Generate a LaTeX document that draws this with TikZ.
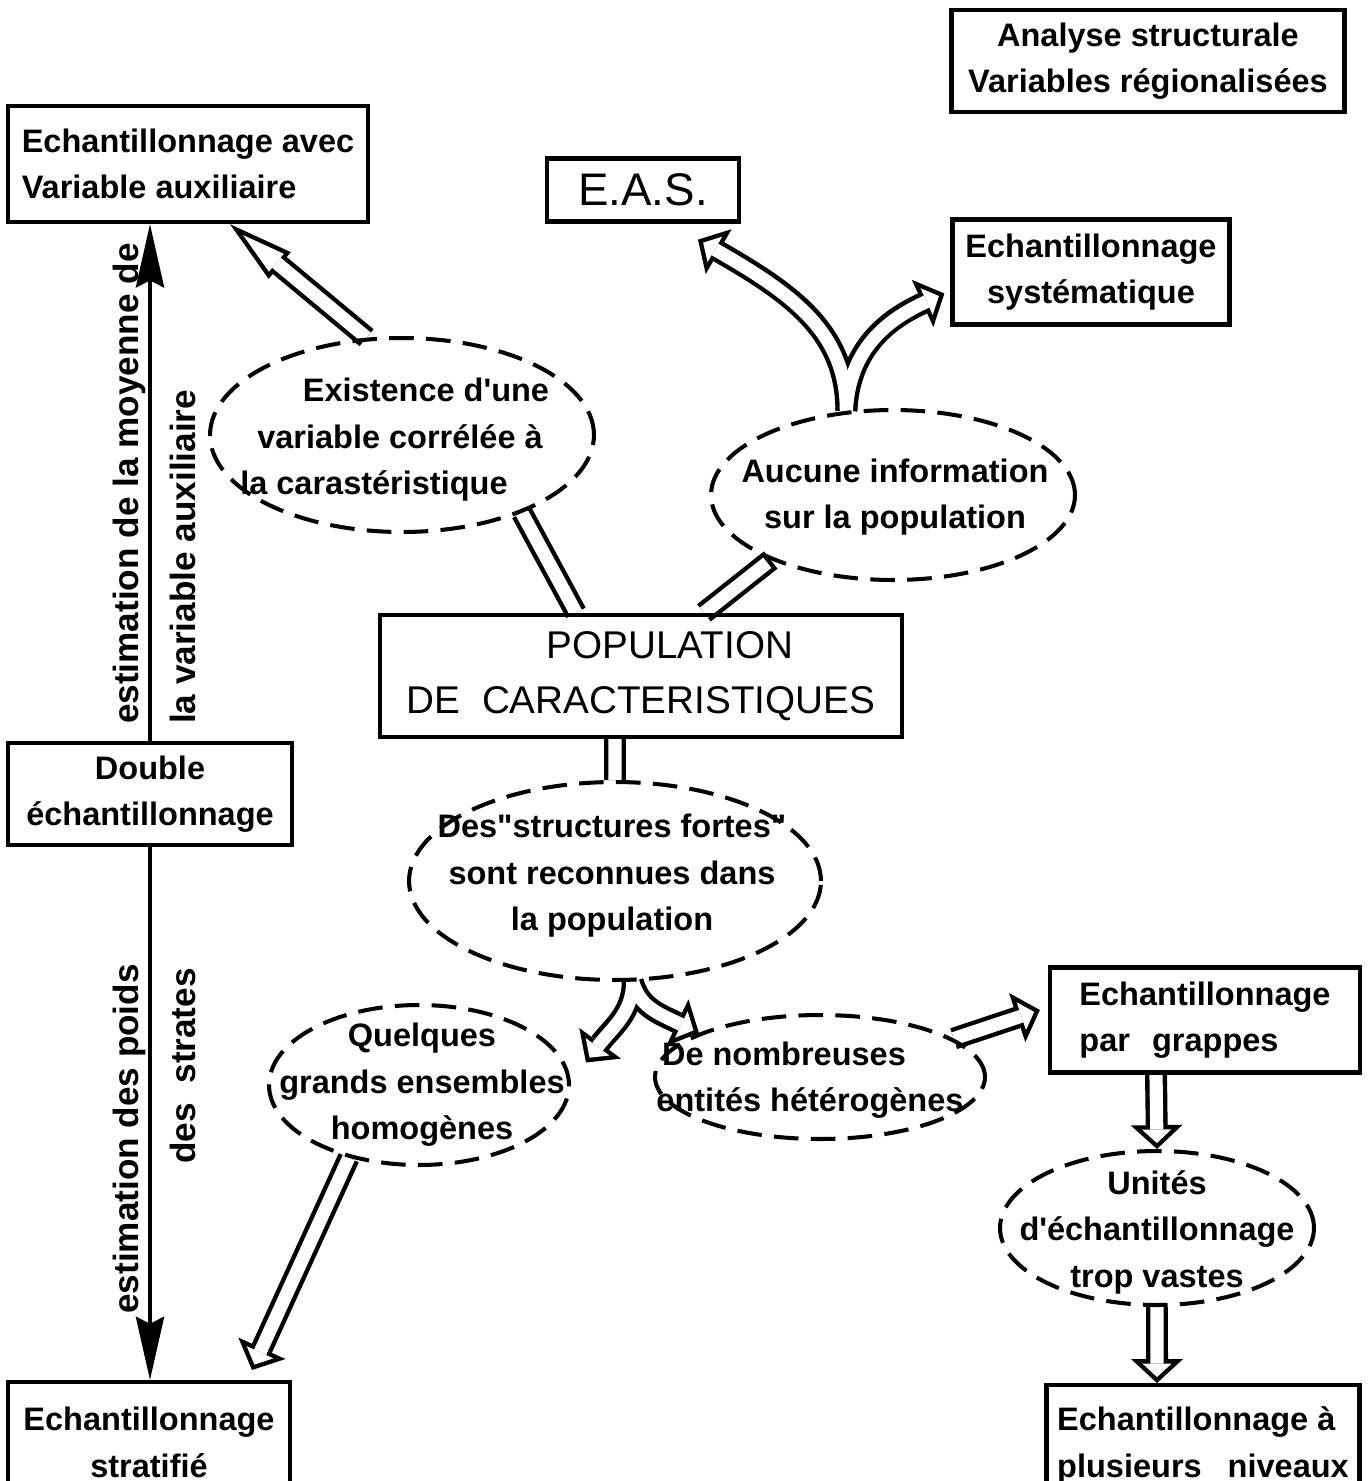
\documentclass[tikz,border=0pt]{standalone}
\usepackage{fontspec}
\setmainfont{Liberation Sans}[Ligatures=TeXOff]
\usetikzlibrary{arrows.meta,shapes.geometric,backgrounds}

\newcommand\lettering{\fontsize{18.5}{26.5}\selectfont\bfseries}
\newcommand\sidelettering{\fontsize{20}{24}\selectfont\bfseries}
\newcommand\biglettering{\fontsize{22}{31}\selectfont}
\newcommand\hollow[2][head]{%
  \draw[pipe,#1out] #2;
  \draw[pipein,#1in] #2;}

\tikzset{
  box/.style={draw, line width=2.5pt, align=center, font=\lettering},
  situ/.style 2 args={draw, ellipse, line width=2.3pt, dash pattern=on 14pt off 7pt,
    minimum width=#1cm, minimum height=#2cm, inner sep=0pt},
  txt/.style={align=center, font=\lettering},
  side/.style={rotate=90, font=\sidelettering},
  pipe/.style={line width=12.5pt},
  pipein/.style={line width=7.5pt, white},
  headout/.style={-{Triangle[length=13.6pt, width=29.5pt, line width=0pt]}},
  headin/.style={shorten >=3.4pt, -{Triangle[length=7.7pt, width=16.7pt, line width=0pt]}},
  longout/.style={-{Triangle[length=36.8pt, width=19.8pt, line width=0pt]}},
  longin/.style={shorten >=9.7pt, -{Triangle[length=24.6pt, width=13.2pt, line width=0pt]}},
  estim/.style={line width=2.3pt, -{Stealth[length=36pt, width=16pt, inset=4pt]}},
}

\begin{document}
\begin{tikzpicture}[x=0.02cm, y=-0.02cm]
  \useasboundingbox (0,0) rectangle (1371,1481);
  \clip (0,0) rectangle (1371,1481);

  % boxes
  \node[box, minimum width=7.86cm, minimum height=2.04cm] (anal) at (1148,61)
    {Analyse structurale\\Variables régionalisées};
  \node[box, font=\fontsize{26}{30}\selectfont, minimum width=3.84cm, minimum height=1.26cm] (eas) at (643,190) {E.A.S.};
  \node[box, align=left, minimum width=7.2cm, minimum height=2.32cm] (avec) at (188,164)
    {Echantillonnage avec\\Variable auxiliaire};
  \node[box, minimum width=5.54cm, minimum height=2.1cm] (syst) at (1091,272)
    {Echantillonnage\\systématique};
  \node[box, font=\biglettering, minimum width=10.44cm, minimum height=2.44cm] (pop) at (641,676)
    {\hspace*{1.5em}POPULATION\\DE\ \ CARACTERISTIQUES};
  \node[box, minimum width=5.68cm, minimum height=2.04cm] (double) at (150,794)
    {Double\\échantillonnage};
  \node[box, align=left, minimum width=6.2cm, minimum height=2.1cm] (grappes) at (1205,1020)
    {Echantillonnage\\par\hspace{0.4em} grappes\hspace*{1em}};
  \node[box, anchor=north, minimum width=5.64cm, minimum height=2.4cm] (strat) at (149,1380)
    {Echantillonnage\\stratifié};
  \node[box, align=left, anchor=north, minimum width=6.26cm, minimum height=2.4cm] (niv) at (1203,1383)
    {Echantillonnage à\\plusieurs\hspace{0.8em}niveaux};

  % situations
  \node[situ={7.68}{3.88}] (exist) at (402,435) {};
  \node[txt] (existtxt) at (400,440)
    {\hspace*{1.6em}Existence d'une\\variable corrélée à\\la carastéristique\hspace*{1.6em}};
  \node[situ={7.28}{3.4}] (aucune) at (893,495) {};
  \node[txt] (aucunetxt) at (895,497) {Aucune information\\sur la population};
  \node[situ={8.24}{3.96}] (struct) at (615,881) {};
  \node[txt] (structtxt) at (612,876) {Des"structures fortes"\\sont reconnues dans\\la population};
  \node[situ={6}{3.2}] (quelq) at (419,1085) {};
  \node[txt] (quelqtxt) at (422,1085) {Quelques\\grands ensembles\\homogènes};
  \node[situ={6.6}{2.48}] (nombr) at (820,1077) {};
  \node[txt] (nombrtxt) at (810,1080) {De nombreuses\hspace*{1.6em}\\entités hétérogènes};
  \node[situ={6.28}{3.08}] (unites) at (1157,1228) {};
  \node[txt] (unitestxt) at (1157,1232) {Unités\\d'échantillonnage\\trop vastes};

  % estimations
  \draw[estim] (double.north) -- (double.north |- avec.south);
  \draw[estim] (double.south) -- (double.south |- strat.north);
  \node[side, anchor=base west] (moy) at (138,730) {estimation de la moyenne de};
  \node[side, anchor=base west] (aux) at (195,730) {la variable auxiliaire};
  \node[side, anchor=base east] (poids) at (138,958) {estimation des poids};
  \node[side, anchor=base east] (strates) at (195,962) {des\ \ strates};

  \begin{pgfonlayer}{background}
    \draw[pipe] ([xshift=-1.3cm]pop.north) -- (exist.-33);
    \draw[pipein] ([xshift=-1.3cm]pop.north) -- (exist.-33);
    \draw[pipe] ([xshift=1.26cm]pop.north) -- (aucune.208);
    \draw[pipein, shorten >=2.5pt] ([xshift=1.26cm]pop.north) -- (aucune.208);
    \draw[pipe] ([xshift=-0.52cm]pop.south) -- (struct.north);
    \draw[pipein] ([xshift=-0.52cm]pop.south) -- (struct.north);

    \hollow[long]{(exist.110) -- ([xshift=0.84cm]avec.south)}

    \draw[pipe, headout] (aucune.119) .. controls +(0,-80) and +(92,53) .. ([xshift=1.1cm, yshift=-0.32cm]eas.south);
    \draw[pipe, headout] (aucune.119) .. controls +(3,-62) and +(-57,26) .. ([xshift=-0.12cm, yshift=-0.43cm]syst.west);
    \draw[pipein, headin] (aucune.119) .. controls +(0,-80) and +(92,53) .. ([xshift=1.1cm, yshift=-0.32cm]eas.south);
    \draw[pipein, headin] (aucune.119) .. controls +(3,-62) and +(-57,26) .. ([xshift=-0.12cm, yshift=-0.43cm]syst.west);

    \draw[pipe, headout] (struct.-80) .. controls +(0,32) and +(25,-34) .. ([xshift=0.3cm, yshift=0.45cm]quelq.east);
    \draw[pipe, headout] (struct.-80) .. controls +(7,25) and +(-42,-20) .. (nombr.160);
    \draw[pipein, headin] (struct.-80) .. controls +(0,32) and +(25,-34) .. ([xshift=0.3cm, yshift=0.45cm]quelq.east);
    \draw[pipein, headin] (struct.-80) .. controls +(7,25) and +(-42,-20) .. (nombr.160);

    \hollow{(nombr.16) -- ([xshift=-0.16cm, yshift=0.2cm]grappes.west)}
    \hollow{([xshift=-0.98cm]grappes.south) -- (unites.north)}
    \hollow{(unites.south) -- ([xshift=-0.92cm]niv.north)}
    \hollow{(quelq.226) -- ([xshift=2.06cm, yshift=0.2cm]strat.north)}
  \end{pgfonlayer}
\end{tikzpicture}
\end{document}
